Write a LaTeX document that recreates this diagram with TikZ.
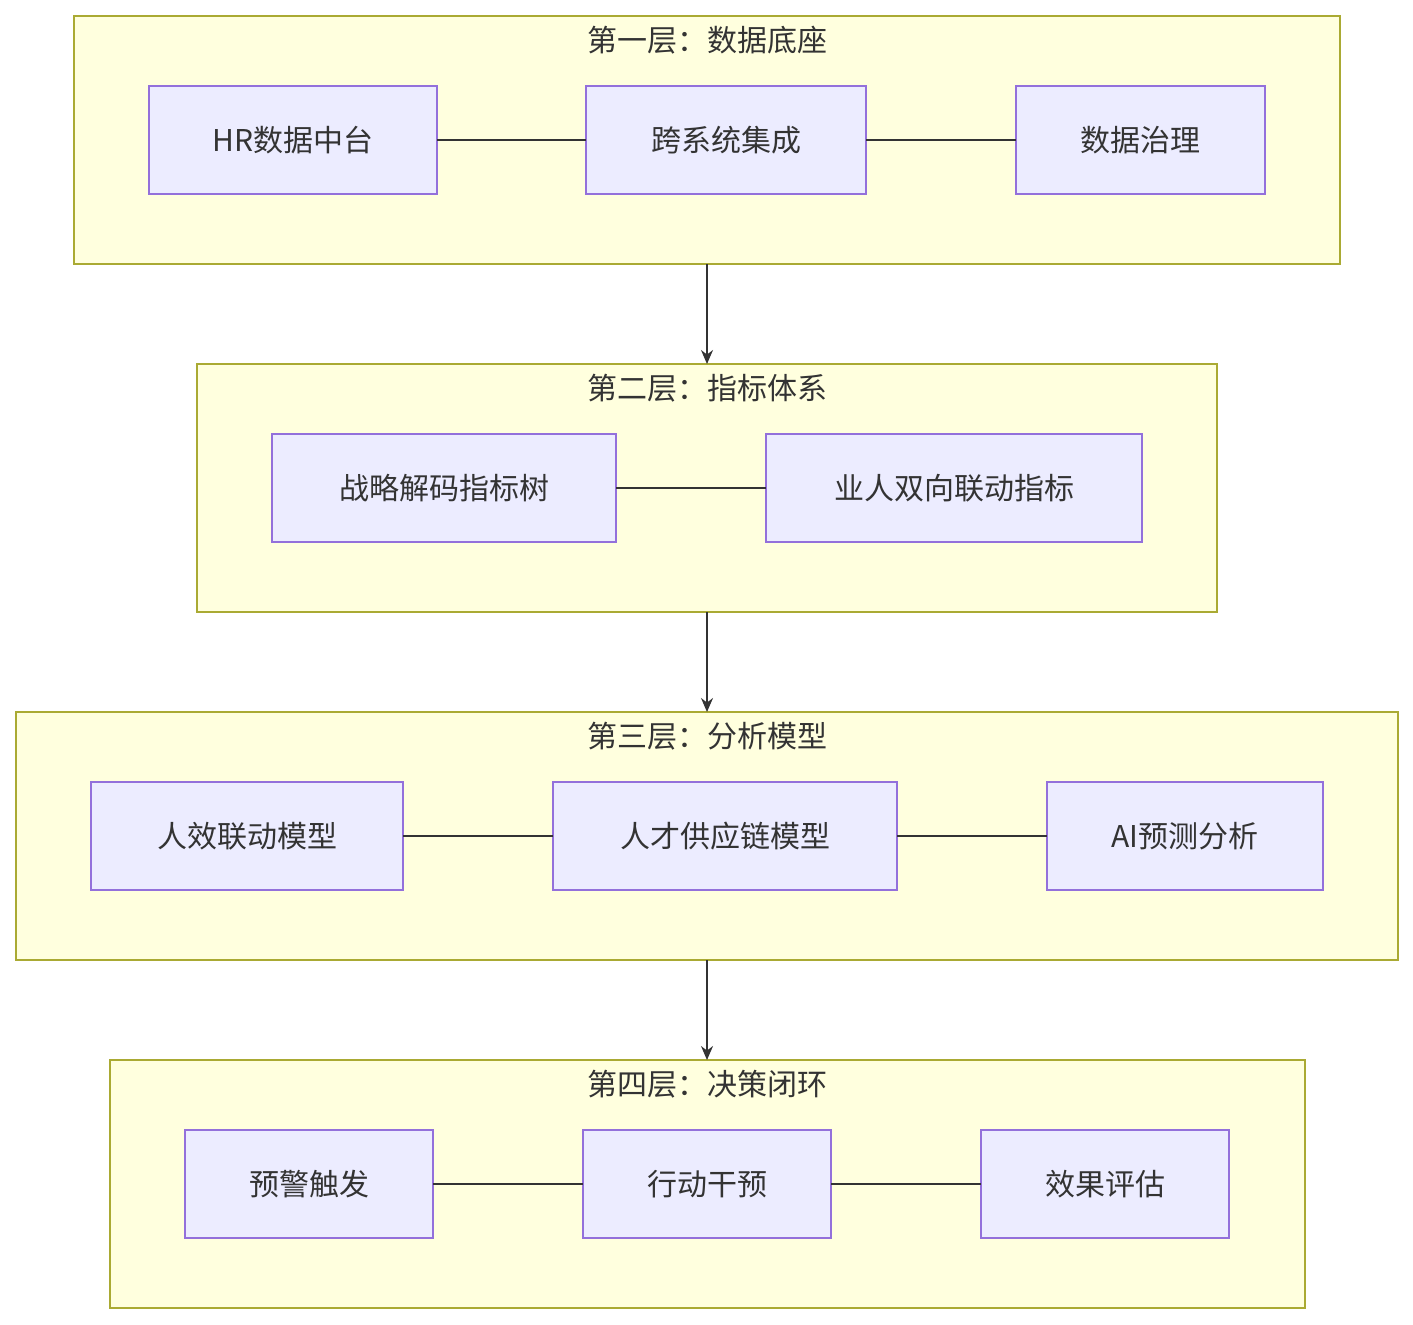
\documentclass[tikz,border=0pt]{standalone}
\usepackage{fontspec}
\setmainfont{Noto Sans CJK SC}
\usetikzlibrary{arrows.meta}
\definecolor{clf}{HTML}{FFFFDE}\definecolor{cls}{HTML}{AAAA33}
\definecolor{ndf}{HTML}{ECECFF}\definecolor{nds}{HTML}{9370DB}
\definecolor{tx}{HTML}{333333}
\begin{document}
\begin{tikzpicture}[x=0.5pt,y=-0.5pt,
 clus/.style={draw=cls,fill=clf,line width=0.7pt},
 box/.style={draw=nds,fill=ndf,line width=0.7pt},
 lbl/.style={text=tx,font=\fontsize{15}{18}\selectfont},
 ln/.style={draw=tx,line width=0.7pt},
 arr/.style={ln,-{Stealth[length=7pt,width=6pt]}}]
\useasboundingbox (0,0) rectangle (1413,1324);
\newcommand\clu[6]{\draw[clus] (#2,#3) rectangle (#4,#5);
 \coordinate (#1t) at (707,#3); \coordinate (#1b) at (707,#5);
 \node[lbl] (#1l) at (707,#3+24) {#6};}
\newcommand\bx[6]{\draw[box] (#2,#3) rectangle (#4,#5);
 \coordinate (#1w) at (#2,{(#3+#5)/2}); \coordinate (#1e) at (#4,{(#3+#5)/2});
 \node[lbl] (#1) at ({(#2+#4)/2},{(#3+#5)/2}) {#6};}
\clu{c1}{74}{16}{1340}{264}{第一层：数据底座}
\clu{c2}{197}{364}{1217}{612}{第二层：指标体系}
\clu{c3}{16}{712}{1398}{960}{第三层：分析模型}
\clu{c4}{110}{1060}{1305}{1308}{第四层：决策闭环}
\bx{a1}{149}{86}{437}{194}{HR数据中台}
\bx{a2}{586}{86}{866}{194}{跨系统集成}
\bx{a3}{1016}{86}{1265}{194}{数据治理}
\bx{b1}{272}{434}{616}{542}{战略解码指标树}
\bx{b2}{766}{434}{1142}{542}{业人双向联动指标}
\bx{d1}{91}{782}{403}{890}{人效联动模型}
\bx{d2}{553}{782}{897}{890}{人才供应链模型}
\bx{d3}{1047}{782}{1323}{890}{AI预测分析}
\bx{e1}{185}{1130}{433}{1238}{预警触发}
\bx{e2}{583}{1130}{831}{1238}{行动干预}
\bx{e3}{981}{1130}{1229}{1238}{效果评估}
\draw[ln] (a1e)--(a2w); \draw[ln] (a2e)--(a3w);
\draw[ln] (b1e)--(b2w);
\draw[ln] (d1e)--(d2w); \draw[ln] (d2e)--(d3w);
\draw[ln] (e1e)--(e2w); \draw[ln] (e2e)--(e3w);
\draw[arr] (c1b)--(c2t); \draw[arr] (c2b)--(c3t); \draw[arr] (c3b)--(c4t);
\end{tikzpicture}
\end{document}
